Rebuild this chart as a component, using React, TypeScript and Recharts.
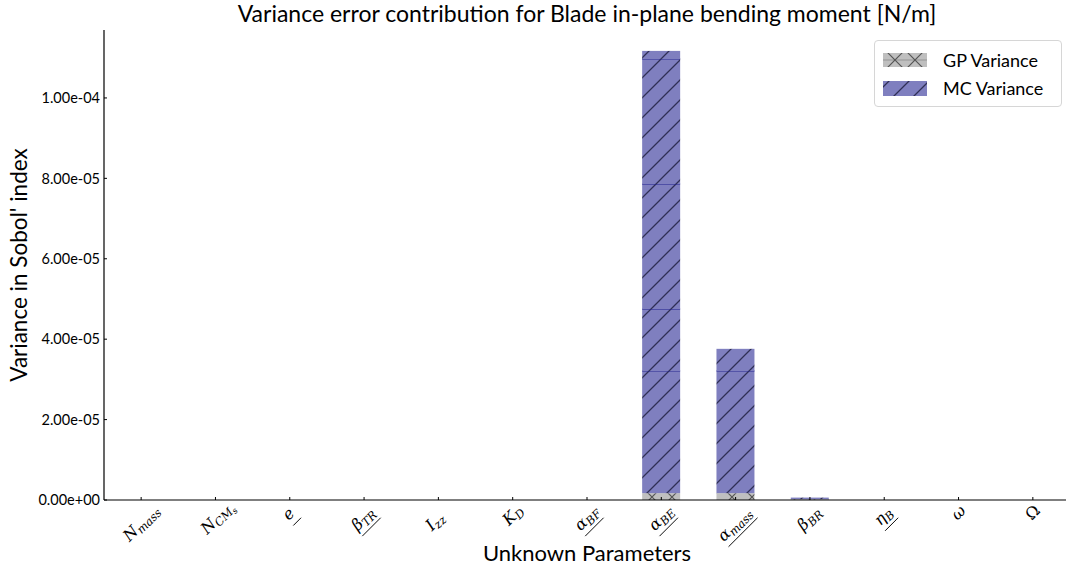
import { BarChart, Bar, XAxis, YAxis } from 'recharts';

const categories = ['N_mass', 'N_CMs', 'e', 'beta_TR', 'I_zz', 'K_D', 'alpha_BF', 'alpha_BE', 'alpha_mass', 'beta_BR', 'eta_B', 'omega', 'Omega'];
const tickSymbols = ['N', 'N', 'e', 'β', 'I', 'K', 'α', 'α', 'α', 'β', 'η', 'ω', 'Ω'];
const tickSubs = ['mass', 'CM', '', 'TR', 'zz', 'D', 'BF', 'BE', 'mass', 'BR', 'B', '', ''];
const tickSubSubs = ['', 's', '', '', '', '', '', '', '', '', '', '', ''];
const tickUnderlined = [false, false, true, true, false, false, true, true, true, false, true, false, false];

const gpVariance = [0, 0, 0, 0, 0, 0, 0, 1.7e-6, 1.7e-6, 2e-7, 0, 0, 0];
const mcVariance = [0, 0, 0, 0, 0, 0, 0, 1.117e-4, 3.76e-5, 6e-7, 0, 0, 0];
// inner edges visible inside the MC bars
const mcLevel1 = [0, 0, 0, 0, 0, 0, 0, 3.21e-5, 3.21e-5, 0, 0, 0, 0];
const mcLevel2 = [0, 0, 0, 0, 0, 0, 0, 4.75e-5, 0, 0, 0, 0, 0];
const mcLevel3 = [0, 0, 0, 0, 0, 0, 0, 7.86e-5, 0, 0, 0, 0, 0];
const mcLevel4 = [0, 0, 0, 0, 0, 0, 0, 1.097e-4, 0, 0, 0, 0, 0];

const yTicks = [0, 2e-5, 4e-5, 6e-5, 8e-5, 1e-4];

const FONT = 'Lato, "DejaVu Sans", sans-serif';
const MATH = '"DejaVu Serif", "Liberation Serif", serif';

const levels = [mcLevel1, mcLevel2, mcLevel3, mcLevel4];
const chartData = categories.map((name, i) => {
  const row: Record<string, number | string> = { name, gp: gpVariance[i] };
  let prev = gpVariance[i];
  levels.forEach((lv, k) => {
    row[`s${k}`] = lv[i] > 0 ? lv[i] - prev : 0;
    if (lv[i] > 0) prev = lv[i];
  });
  row.top = Math.max(mcVariance[i] - prev, 0);
  return row;
});

function formatSci(v: number) {
  const [m, e] = v.toExponential(2).split('e');
  const sign = e[0] === '-' ? '-' : '+';
  return `${m}e${sign}${e.replace(/^[+-]/, '').padStart(2, '0')}`;
}

const GpShape = (p: any) => {
  if (!p.height || p.height <= 0) return null;
  return <rect x={p.x} y={p.y} width={p.width} height={p.height} fill="url(#gpHatch)" />;
};

const mcShape = (withLine: boolean) => (p: any) => {
  if (!p.height || p.height <= 0) return null;
  return (
    <g>
      <rect x={p.x} y={p.y} width={p.width} height={p.height} fill="url(#mcHatch)" />
      {withLine && <line x1={p.x} x2={p.x + p.width} y1={p.y} y2={p.y} stroke="#1e1e8c" strokeWidth={1} />}
    </g>
  );
};

const ParamTick = ({ x, y, payload }: any) => {
  const i = categories.indexOf(payload.value);
  if (i < 0) return null;
  const sym = tickSymbols[i];
  const sub = tickSubs[i];
  const subsub = tickSubSubs[i];
  const w = 11 * sym.length + 7.5 * sub.length + 5 * subsub.length;
  const h = 15;
  const cy = y + 5 + 0.354 * (w + h);
  const upright = sym === 'Ω';
  return (
    <g transform={`translate(${x},${cy}) rotate(-45)`}>
      <text x={-w / 2} y={4} fontFamily={MATH} fontSize={16} fill="#000" fontStyle={upright ? 'normal' : 'italic'} fontWeight={300}>
        {sym}
        {sub && <tspan fontSize={11.5} dy={3}>{sub}</tspan>}
        {subsub && <tspan fontSize={8.5} dy={2}>{subsub}</tspan>}
      </text>
      {tickUnderlined[i] && (
        <line x1={-w / 2} x2={w / 2} y1={h / 2 + 3} y2={h / 2 + 3} stroke="#000" strokeWidth={0.9} />
      )}
    </g>
  );
};

const GpSwatch = () => (
  <svg width={44} height={14}>
    <defs>
      <pattern id="legGp" patternUnits="userSpaceOnUse" x={2} y={-3} width={20} height={20}>
        <rect width={20} height={20} fill="#bfbfbf" />
        <path d="M0,10 L20,10" stroke="#8a8a8a" strokeWidth={0.8} />
        <path d="M0,0 L20,20 M20,0 L0,20" stroke="#555" strokeWidth={1.2} />
      </pattern>
    </defs>
    <rect width={44} height={14} fill="url(#legGp)" />
  </svg>
);

const McSwatch = () => (
  <svg width={44} height={15}>
    <defs>
      <pattern id="legMc" patternUnits="userSpaceOnUse" x={6} width={20} height={20}>
        <rect width={20} height={20} fill="#7f7fbf" />
        <path d="M-5,5 L5,-5 M0,20 L20,0 M15,25 L25,15" stroke="#1c1c3c" strokeOpacity={0.8} strokeWidth={1.3} />
      </pattern>
    </defs>
    <rect width={44} height={15} fill="url(#legMc)" />
  </svg>
);

export default function App() {
  return (
    <div style={{ position: 'absolute', left: 0, top: 0, width: 1066, height: 572, overflow: 'hidden', background: '#fff', fontFamily: FONT }}>
      <BarChart
        width={1072}
        height={572}
        data={chartData}
        margin={{ top: 30, right: 2, left: 0, bottom: 0 }}
        barSize={38}
      >
        <defs>
          <pattern id="mcHatch" patternUnits="userSpaceOnUse" width={20} height={20}>
            <rect width={20} height={20} fill="#7f7fbf" />
            <path d="M-5,5 L5,-5 M0,20 L20,0 M15,25 L25,15" stroke="#1c1c3c" strokeOpacity={0.8} strokeWidth={1.3} />
          </pattern>
          <pattern id="gpHatch" patternUnits="userSpaceOnUse" x={2} y={7} width={20} height={20}>
            <rect width={20} height={20} fill="#bfbfbf" />
            <path d="M0,0 L20,20 M20,0 L0,20" stroke="#555" strokeWidth={1.2} />
          </pattern>
        </defs>
        <XAxis
          dataKey="name"
          interval={0}
          height={72}
          tick={<ParamTick />}
          tickSize={-3}
          tickMargin={3}
          tickLine={{ stroke: '#000' }}
          axisLine={{ stroke: '#000', strokeWidth: 1.2 }}
        />
        <XAxis
          xAxisId="frame"
          dataKey="name"
          orientation="top"
          height={0}
          tick={false}
          tickLine={false}
          axisLine={{ stroke: '#555', strokeWidth: 1.2 }}
        />
        <YAxis
          width={104}
          domain={[0, 1.169e-4]}
          ticks={yTicks}
          tickFormatter={formatSci}
          tickSize={-3}
          tickMargin={7}
          tick={{ fill: '#000', fontSize: 14.5, fontFamily: FONT }}
          tickLine={{ stroke: '#000' }}
          axisLine={{ stroke: '#000', strokeWidth: 1.2 }}
        />
        <Bar dataKey="gp" stackId="v" shape={GpShape} isAnimationActive={false} />
        <Bar dataKey="s0" stackId="v" shape={mcShape(true)} isAnimationActive={false} />
        <Bar dataKey="s1" stackId="v" shape={mcShape(true)} isAnimationActive={false} />
        <Bar dataKey="s2" stackId="v" shape={mcShape(true)} isAnimationActive={false} />
        <Bar dataKey="s3" stackId="v" shape={mcShape(true)} isAnimationActive={false} />
        <Bar dataKey="top" stackId="v" shape={mcShape(false)} isAnimationActive={false} />
      </BarChart>

      <div style={{ position: 'absolute', left: 104, width: 966, top: 0, textAlign: 'center', fontSize: 23, lineHeight: '27px', color: '#000' }}>
        Variance error contribution for Blade in-plane bending moment [N/m]
      </div>
      <div style={{ position: 'absolute', left: 104, width: 966, top: 540, textAlign: 'center', fontSize: 22, lineHeight: '26px', color: '#000' }}>
        Unknown Parameters
      </div>
      <div
        style={{
          position: 'absolute', left: 19, top: 265, width: 300, marginLeft: -150, marginTop: -13,
          textAlign: 'center', fontSize: 22.5, lineHeight: '26px', transform: 'rotate(-90deg)', color: '#000',
        }}
      >
        Variance in Sobol' index
      </div>

      <div
        style={{
          position: 'absolute', left: 874, top: 40, width: 186, height: 65, border: '1px solid #d6d6d6',
          borderRadius: 4, background: 'rgba(255,255,255,0.85)', fontSize: 18, color: '#000',
        }}
      >
        <div style={{ position: 'absolute', left: 8, top: 10, display: 'flex', alignItems: 'center' }}>
          <GpSwatch />
          <span style={{ marginLeft: 16, lineHeight: '18px' }}>GP Variance</span>
        </div>
        <div style={{ position: 'absolute', left: 8, top: 38, display: 'flex', alignItems: 'center' }}>
          <McSwatch />
          <span style={{ marginLeft: 16, lineHeight: '18px' }}>MC Variance</span>
        </div>
      </div>
    </div>
  );
}
